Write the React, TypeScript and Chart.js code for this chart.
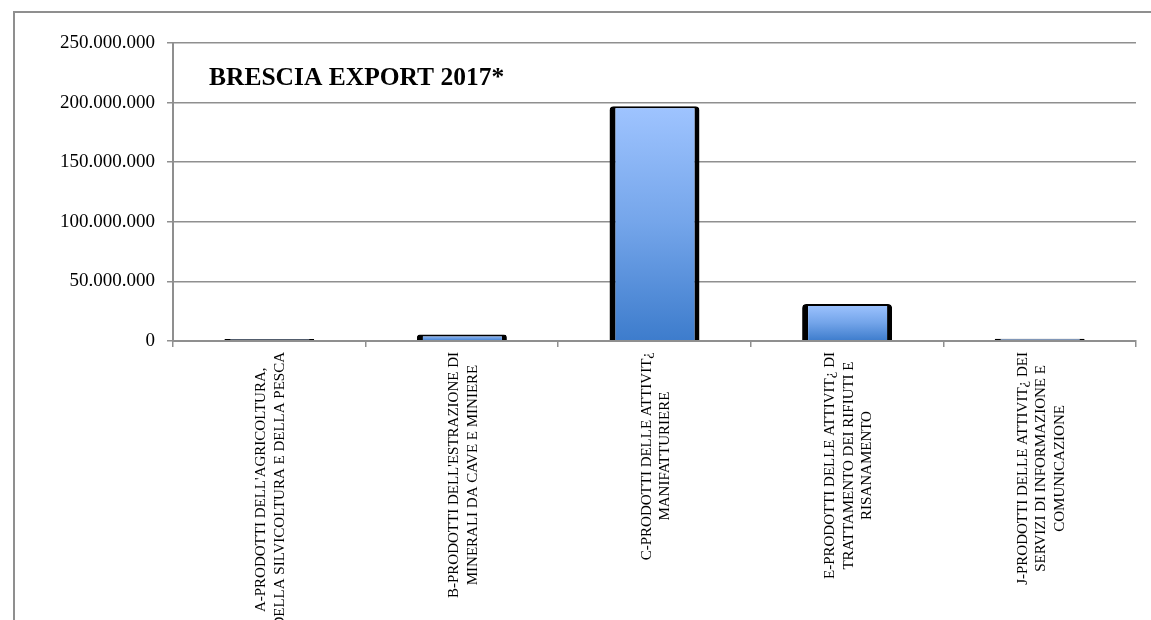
import React, { useEffect, useRef } from 'react';
import { Chart, registerables } from 'chart.js';

Chart.register(...registerables);

const chartTitle = 'BRESCIA EXPORT 2017*';

const categories: string[][] = [
  ["A-PRODOTTI DELL'AGRICOLTURA,", 'DELLA SILVICOLTURA E DELLA PESCA'],
  ["B-PRODOTTI DELL'ESTRAZIONE DI", 'MINERALI DA CAVE E MINIERE'],
  ['C-PRODOTTI DELLE ATTIVIT¿', 'MANIFATTURIERE'],
  ['E-PRODOTTI DELLE ATTIVIT¿ DI', 'TRATTAMENTO DEI RIFIUTI E', 'RISANAMENTO'],
  ['J-PRODOTTI DELLE ATTIVIT¿ DEI', 'SERVIZI DI INFORMAZIONE E', 'COMUNICAZIONE'],
];

const exportValues: number[] = [1600000, 5500000, 197000000, 31000000, 1900000];

const yMin = 0;
const yMax = 250000000;
const yStep = 50000000;

const GRID = '#8f8f8f';

function formatIt(v: number): string {
  return Math.round(v)
    .toString()
    .replace(/\B(?=(\d{3})+(?!\d))/g, '.');
}

const decorPlugin = {
  id: 'decor',
  beforeDraw(chart: any) {
    const ctx = chart.ctx;
    ctx.save();
    ctx.fillStyle = '#ffffff';
    ctx.fillRect(0, 0, chart.width, chart.height);
    ctx.strokeStyle = GRID;
    ctx.lineWidth = 2;
    ctx.beginPath();
    ctx.moveTo(14, chart.height + 10);
    ctx.lineTo(14, 12);
    ctx.lineTo(chart.width + 10, 12);
    ctx.stroke();
    ctx.restore();
  },
  afterDraw(chart: any) {
    const ctx = chart.ctx;
    const area = chart.chartArea;
    const xs = chart.scales.x;
    ctx.save();
    ctx.fillStyle = '#000';
    ctx.font = 'bold 25.5px "Liberation Serif"';
    ctx.textAlign = 'left';
    ctx.textBaseline = 'alphabetic';
    ctx.fillText(chartTitle, area.left + 36, area.top + 42);
    ctx.font = '15px "Liberation Serif"';
    categories.forEach((lines, i) => {
      const cx = xs.getPixelForValue(i) + 1.5;
      const maxW = Math.max(...lines.map((l) => ctx.measureText(l).width));
      const cy = area.bottom + 11 + maxW / 2;
      ctx.save();
      ctx.translate(cx, cy);
      ctx.rotate(-Math.PI / 2);
      ctx.textAlign = 'center';
      ctx.textBaseline = 'middle';
      lines.forEach((l, j) => {
        ctx.fillText(l, 0, (j - (lines.length - 1) / 2) * 18.5);
      });
      ctx.restore();
    });
    ctx.restore();
  },
};

function barGradient(c: any) {
  const ch = c.chart;
  const ys = ch && ch.scales && ch.scales.y;
  const fallback = '#6f9fe6';
  if (!ys || typeof c.raw !== 'number') return fallback;
  const bottom = ys.getPixelForValue(0);
  let top = ys.getPixelForValue(c.raw);
  if (!Number.isFinite(bottom) || !Number.isFinite(top)) return fallback;
  if (bottom - top < 1) top = bottom - 1;
  const g = ch.ctx.createLinearGradient(0, top, 0, bottom);
  g.addColorStop(0, '#9fc4ff');
  g.addColorStop(0.5, '#74a5ea');
  g.addColorStop(1, '#3d7ccc');
  return g;
}

export default function App() {
  const ref = useRef<HTMLCanvasElement | null>(null);

  useEffect(() => {
    if (!ref.current) return;
    const chart = new Chart(ref.current, {
      type: 'bar',
      data: {
        labels: categories.map((c) => c.join(' ')),
        datasets: [
          {
            label: 'Export',
            data: exportValues,
            backgroundColor: barGradient,
            borderColor: '#000000',
            borderWidth: { left: 6, right: 5, top: 2, bottom: 0 },
            borderSkipped: false,
            borderRadius: { topLeft: 4, topRight: 4, bottomLeft: 0, bottomRight: 0 },
            barPercentage: 0.467,
            categoryPercentage: 1,
          },
        ],
      },
      options: {
        responsive: false,
        animation: false,
        devicePixelRatio: 1,
        layout: { padding: { left: 0, top: 43, right: 15, bottom: 0 } },
        plugins: {
          legend: { display: false },
          title: { display: false },
          tooltip: { enabled: false },
        },
        scales: {
          x: {
            grid: {
              display: true,
              drawOnChartArea: false,
              drawTicks: true,
              tickLength: 6,
              color: GRID,
              lineWidth: 1.5,
              offset: true,
            },
            border: { display: true, color: GRID, width: 2, z: 1 },
            ticks: { display: false },
            afterFit: (s: any) => {
              s.height = 279;
            },
          },
          y: {
            min: yMin,
            max: yMax,
            grid: {
              display: true,
              drawOnChartArea: true,
              drawTicks: true,
              tickLength: 6,
              color: GRID,
              lineWidth: 1.5,
            },
            border: { display: true, color: GRID, width: 2 },
            ticks: {
              stepSize: yStep,
              padding: 12,
              color: '#000',
              font: { family: '"Liberation Serif"', size: 19 },
              callback: (v: any) => formatIt(Number(v)),
            },
            afterFit: (s: any) => {
              s.width = 173;
            },
          },
        },
      },
      plugins: [decorPlugin],
    });
    return () => chart.destroy();
  }, []);

  return (
    <div
      style={{
        position: 'fixed',
        left: 0,
        top: 0,
        width: 1151,
        height: 620,
        background: '#fff',
      }}
    >
      <canvas ref={ref} width={1151} height={620} style={{ display: 'block' }} />
    </div>
  );
}
